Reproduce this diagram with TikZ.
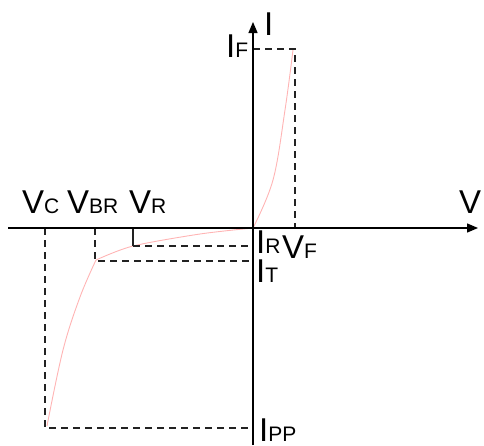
\documentclass[tikz,border=0pt]{standalone}
\usepackage{fontspec}
\setmainfont{Liberation Sans}
\usetikzlibrary{arrows.meta}
\definecolor{curvepink}{HTML}{FFB4B4}
\definecolor{dashgray}{HTML}{222222}
\newcommand\biglab[2]{{\fontsize{33}{33}\selectfont #1}{\fontsize{21}{21}\selectfont #2}}
\begin{document}
\begin{tikzpicture}[x=1pt,y=-1pt,
  axis/.style={line width=1.3pt,black,-{Triangle[length=11pt,width=9pt]}},
  guide/.style={line width=1.4pt,dashgray,dash pattern=on 7pt off 5pt},
  guidesolid/.style={line width=1.4pt,dashgray},
  curve/.style={line width=0.9pt,curvepink},
  lab/.style={inner sep=0pt,anchor=base west}]
\useasboundingbox (0,0) rectangle (484,445);
% key points
\coordinate (O) at (253,228);
\coordinate (xl) at (8,228);
\coordinate (xr) at (478,228);
\coordinate (yb) at (253,445);
\coordinate (yt) at (253,22);
\coordinate (IFa) at (253,49);
\coordinate (IFc) at (295,49);
\coordinate (VFa) at (295,228);
\coordinate (VRa) at (133,228);
\coordinate (VRc) at (133,246);
\coordinate (IRa) at (253,246);
\coordinate (VBRa) at (95,228);
\coordinate (VBRc) at (95,261);
\coordinate (ITa) at (253,261);
\coordinate (VCa) at (45,228);
\coordinate (VCc) at (45,428);
\coordinate (IPPa) at (253,428);
% curve
\draw[curve] plot[smooth,tension=0.6] coordinates {(293,50) (285,110) (273,180) (253,228)};
\draw[curve] plot[smooth,tension=0.5] coordinates {(253,228) (200,234) (133,246) (96,260)};
\draw[curve] plot[smooth,tension=0.6] coordinates {(96,260) (80,297) (63,350) (47,426)};
% guides
\draw[guide] (IFa) -- (IFc) -- (VFa);
\draw[guidesolid] (VRa) -- (VRc);
\draw[guide] (VRc) -- (IRa);
\draw[guide] (VBRa) -- (VBRc) -- (ITa);
\draw[guide] (VCa) -- (VCc) -- (IPPa);
% axes
\draw[axis] (xl) -- (xr);
\draw[axis] (yb) -- (yt);
% labels
\node[lab] (lVC) at (22,213) {\biglab{V}{C}};
\node[lab] (lVBR) at (67,213) {\biglab{V}{BR}};
\node[lab] (lVR) at (129,213) {\biglab{V}{R}};
\node[lab] (lV) at (459,213) {\biglab{V}{}};
\node[lab] (lI) at (264,35) {\biglab{I}{}};
\node[lab] (lIF) at (226,57) {\biglab{I}{F}};
\node[lab] (lIR) at (256,253) {\biglab{I}{R}};
\node[lab] (lVF) at (282,258) {\biglab{V}{F}};
\node[lab] (lIT) at (256,282) {\biglab{I}{T}};
\node[lab] (lIPP) at (259,441) {\biglab{I}{PP}};
\end{tikzpicture}
\end{document}
